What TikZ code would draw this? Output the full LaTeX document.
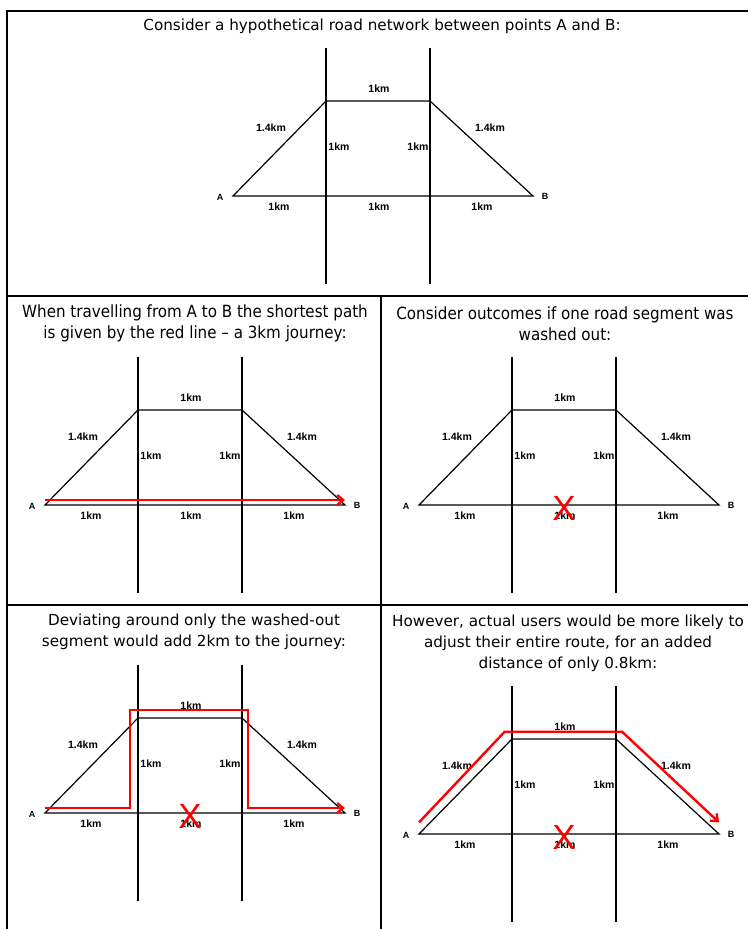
\documentclass[tikz,border=0pt]{standalone}
\usepackage{fontspec}
\setmainfont{DejaVu Sans}
\newfontfamily\kmfont{Liberation Sans}
\newfontfamily\narrowfont[FakeStretch=0.9]{DejaVu Sans}
\usetikzlibrary{arrows.meta,calc}
\definecolor{route}{HTML}{FF0000}
\definecolor{ink}{HTML}{000000}

\tikzset{
  road/.style={draw=ink, line width=1.2pt},
  cellrule/.style={draw=ink, line width=1.6pt},
  km/.style={font=\kmfont\fontsize{10.5}{10.5}\selectfont\bfseries, inner sep=0pt},
  endpt/.style={font=\kmfont\fontsize{9}{9}\selectfont\bfseries, inner sep=0pt},
  title/.style={align=center, font=\fontsize{15.2}{21}\selectfont, inner sep=0pt},
  narrowtitle/.style={align=center, font=\narrowfont\fontsize{16.8}{21}\selectfont, inner sep=0pt},
  washout/.style={text=route, font=\kmfont\fontsize{35}{35}\selectfont, inner sep=0pt},
  trip/.style={draw=route, line width=2.4pt, -{Straight Barb[length=6pt,width=10pt]}},
  roadnet/.pic={
    \coordinate (-A) at (0,0);
    \coordinate (-P) at (93,0);
    \coordinate (-Q) at (197,0);
    \coordinate (-B) at (300,0);
    \coordinate (-C) at (93,-95);
    \coordinate (-D) at (197,-95);
    \coordinate (-Ptop) at (93,-148);
    \coordinate (-Pbot) at (93,88);
    \coordinate (-Qtop) at (197,-148);
    \coordinate (-Qbot) at (197,88);
    \draw[road] (-Ptop) -- (-Pbot);
    \draw[road] (-Qtop) -- (-Qbot);
    \draw[road, line join=miter] (-A) -- (-C) -- (-D) -- (-B) -- cycle;
    % distances
    \node[km] (-top) at (146,-107) {1km};
    \node[km] (-upl) at (38,-68) {1.4km};
    \node[km] (-upr) at (257,-68) {1.4km};
    \node[km] (-inl) at (106,-49) {1km};
    \node[km] (-inr) at (185,-49) {1km};
    \node[km] (-lowl) at (46,11) {1km};
    \node[km] (-lowm) at (146,11) {1km};
    \node[km] (-lowr) at (249,11) {1km};
    \node[endpt] (-labA) at (-13,1) {A};
    \node[endpt] (-labB) at (312,0) {B};
  }
}

\begin{document}
\begin{tikzpicture}[x=1pt, y=-1pt]
    \useasboundingbox (0,0) rectangle (748,929);

    % table rules
    \coordinate (tl) at (7,11);
    \coordinate (tr) at (748,11);
    \coordinate (bl) at (7,929);
    \coordinate (m1l) at (7,296);
    \coordinate (m1r) at (748,296);
    \coordinate (m2l) at (7,605);
    \coordinate (m2r) at (748,605);
    \coordinate (ctop) at (381,296);
    \coordinate (cbot) at (381,929);
    \draw[cellrule] (bl) -- (tl) -- (tr);
    \draw[cellrule] (m1l) -- (m1r);
    \draw[cellrule] (m2l) -- (m2r);
    \draw[cellrule] (ctop) -- (cbot);

    % captions
    \node[title] (cap1) at (382,26) {Consider a hypothetical road network between points A and B:};
    \node[narrowtitle] (cap2) at (195,323.5) {When travelling from A to B the shortest path\\is given by the red line – a 3km journey:};
    \node[narrowtitle] (cap3) at (565,323.5) {Consider outcomes if one road segment was\\washed out:};
    \node[title] (cap4) at (194,632) {Deviating around only the washed-out\\segment would add 2km to the journey:};
    \node[title] (cap5) at (568,643) {However, actual users would be more likely to\\adjust their entire route, for an added\\distance of only 0.8km:};

    % networks
    \pic (n1) at (233,196) {roadnet};
    \pic (n2) at (45,505) {roadnet};
    \pic (n3) at (419,505) {roadnet};
    \pic (n4) at (45,813) {roadnet};
    \pic (n5) at (419,834) {roadnet};

    % washed-out segment
    \node[washout] (x3) at ($(n3-P)!0.5!(n3-Q)+(0,3)$) {X};
    \node[washout] (x4) at ($(n4-P)!0.5!(n4-Q)+(0,3)$) {X};
    \node[washout] (x5) at ($(n5-P)!0.5!(n5-Q)+(0,3)$) {X};

    % routes
    \draw[trip] ($(n2-A)+(0,-5)$) -- ($(n2-B)+(0,-5)$);
    \draw[trip] ($(n4-A)+(0,-5)$) -| ($(n4-C)+(-8,-8)$) -| ($(n4-Q)+(6,-5)$) -- ($(n4-B)+(0,-5)$);
    \draw[trip] ($(n5-A)+(0,-11.6)$) -- ($(n5-C)+(-7.3,-7.3)$) -- ($(n5-D)+(6,-7.3)$) -- ($(n5-B)+(0,-11.6)$);
\end{tikzpicture}
\end{document}
